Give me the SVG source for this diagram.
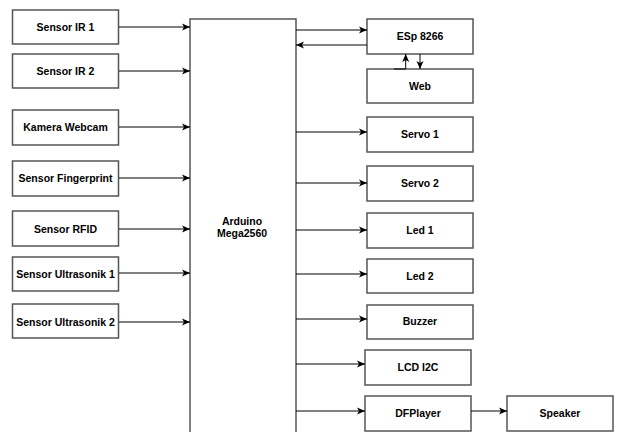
<svg xmlns="http://www.w3.org/2000/svg" width="619" height="432" viewBox="0 0 619 432">
<defs>
<marker id="arr" markerUnits="userSpaceOnUse" markerWidth="9" markerHeight="8" refX="8" refY="4" orient="auto">
<path d="M0,0.5 L8,4 L0,7.5 L2,4 z" fill="#000"/>
</marker>
<style>
.box{fill:#fff;stroke:#555;stroke-width:1.5}
.lbl{font-family:"Liberation Sans",Arial,sans-serif;font-weight:bold;font-size:10.5px;fill:#000;text-anchor:middle}
.c{fill:none;stroke:#000;stroke-width:1;marker-end:url(#arr)}
.p{fill:none;stroke:#000;stroke-width:1}
</style>
</defs>
<rect width="619" height="432" fill="#fff"/>
<g id="arduino"><rect class="box" x="190" y="19" width="106" height="430"/><text class="lbl" x="242" y="224.5">Arduino</text><text class="lbl" x="242" y="237">Mega2560</text></g>
<g id="ir1"><rect class="box" x="12.5" y="10" width="106" height="34"/><text class="lbl" x="65.5" y="31">Sensor IR 1</text></g>
<g id="ir2"><rect class="box" x="12.5" y="54" width="106" height="34"/><text class="lbl" x="65.5" y="75">Sensor IR 2</text></g>
<g id="webcam"><rect class="box" x="12.5" y="110" width="106" height="35"/><text class="lbl" x="65.5" y="131">Kamera Webcam</text></g>
<g id="finger"><rect class="box" x="12.5" y="161" width="106" height="35"/><text class="lbl" x="65.5" y="182">Sensor Fingerprint</text></g>
<g id="rfid"><rect class="box" x="12.5" y="211" width="106" height="35"/><text class="lbl" x="65.5" y="232.5">Sensor RFID</text></g>
<g id="us1"><rect class="box" x="12.5" y="257" width="106" height="34"/><text class="lbl" x="65.5" y="277.5">Sensor Ultrasonik 1</text></g>
<g id="us2"><rect class="box" x="12.5" y="304" width="106" height="34"/><text class="lbl" x="65.5" y="325.5">Sensor Ultrasonik 2</text></g>
<g id="esp"><rect class="box" x="367" y="19" width="106" height="35"/><text class="lbl" x="420" y="40">ESp 8266</text></g>
<g id="web"><rect class="box" x="367" y="69" width="106" height="34"/><text class="lbl" x="420" y="90">Web</text></g>
<g id="servo1"><rect class="box" x="367" y="117" width="106" height="35"/><text class="lbl" x="420" y="138">Servo 1</text></g>
<g id="servo2"><rect class="box" x="367" y="166" width="106" height="35"/><text class="lbl" x="420" y="187">Servo 2</text></g>
<g id="led1"><rect class="box" x="367" y="213" width="106" height="35"/><text class="lbl" x="420" y="234">Led 1</text></g>
<g id="led2"><rect class="box" x="367" y="259" width="106" height="34"/><text class="lbl" x="420" y="280">Led 2</text></g>
<g id="buzzer"><rect class="box" x="367" y="305" width="106" height="34"/><text class="lbl" x="420" y="325">Buzzer</text></g>
<g id="lcd"><rect class="box" x="365" y="350" width="106" height="35"/><text class="lbl" x="418" y="371">LCD I2C</text></g>
<g id="dfplayer"><rect class="box" x="365" y="396" width="106" height="35"/><text class="lbl" x="418" y="417">DFPlayer</text></g>
<g id="speaker"><rect class="box" x="507" y="396" width="106" height="35"/><text class="lbl" x="560" y="417">Speaker</text></g>
<g id="connectors">
<path class="c" d="M119,27 H190"/>
<path class="c" d="M119,71 H190"/>
<path class="c" d="M119,127 H190"/>
<path class="c" d="M119,178 H190"/>
<path class="c" d="M119,229 H190"/>
<path class="c" d="M119,273 H190"/>
<path class="c" d="M119,322 H190"/>
<path class="c" d="M296,30 H367"/>
<path class="c" d="M367,45 H296"/>
<path class="p" d="M394,69 H405.7"/>
<path class="c" d="M405.7,69 V54"/>
<path class="c" d="M420,54 V69"/>
<path class="c" d="M296,132 H367"/>
<path class="c" d="M296,183 H367"/>
<path class="c" d="M296,230 H367"/>
<path class="c" d="M296,274 H367"/>
<path class="c" d="M296,319 H367"/>
<path class="c" d="M296,364 H365"/>
<path class="c" d="M296,411 H365"/>
<path class="c" d="M471,411 H507"/>
</g>
</svg>
